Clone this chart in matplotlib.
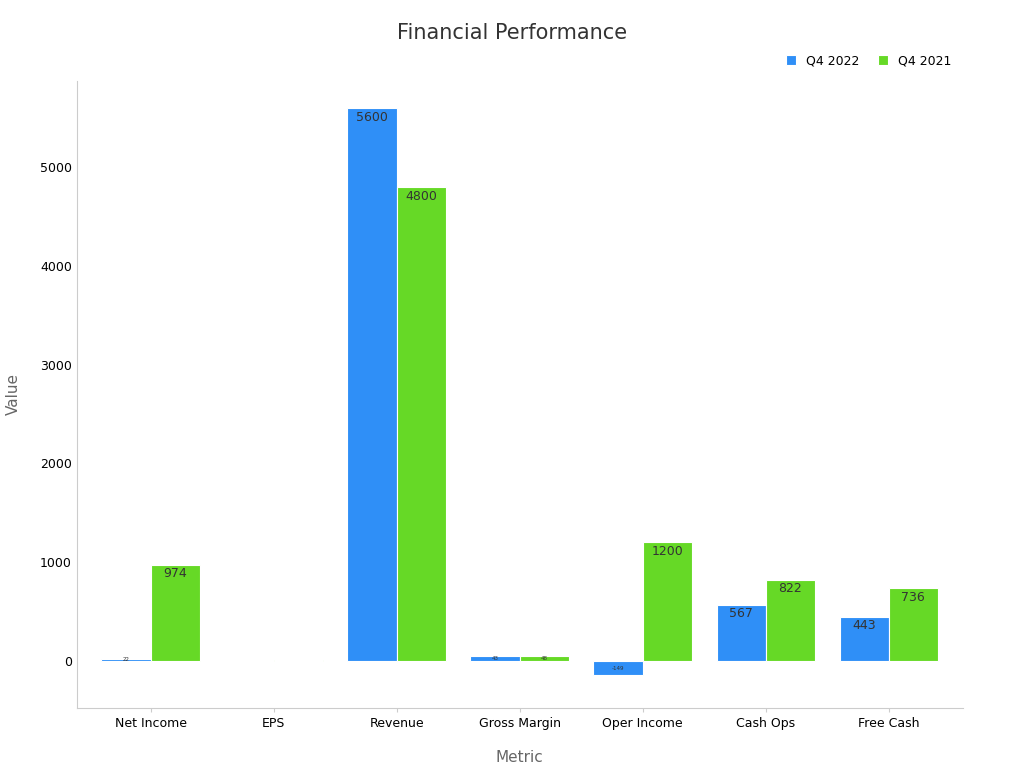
import numpy as np
import matplotlib as mpl
mpl.use('Agg')
import matplotlib.pyplot as plt

metrics = ['Net Income', 'EPS', 'Revenue', 'Gross Margin', 'Oper Income', 'Cash Ops', 'Free Cash']
q4_2022 = [22, 0.1, 5600, 43, -149, 567, 443]
q4_2021 = [974, 2.9, 4800, 48, 1200, 822, 736]

fig, ax = plt.subplots(figsize=(10.24, 7.68), dpi=100)
fig.subplots_adjust(left=0.075, right=0.94, top=0.895, bottom=0.078)
x = np.arange(len(metrics))
w = 0.4
b1 = ax.bar(x - w / 2, q4_2022, w, color='#2f8ff7', edgecolor='white', linewidth=0.8, label='Q4 2022')
b2 = ax.bar(x + w / 2, q4_2021, w, color='#66d926', edgecolor='white', linewidth=0.8, label='Q4 2021')

for bars, vals in [(b1, q4_2022), (b2, q4_2021)]:
    for b, v in zip(bars, vals):
        if abs(v) < 5:
            continue
        fs = 9 if abs(v) > 300 else 4
        y = v - 90 if v > 300 else v / 2
        ax.text(b.get_x() + b.get_width() / 2, y, '%d' % v, ha='center', va='center',
                fontsize=fs, color='#333333')

ax.set_xlim(-0.6, len(metrics) - 0.4)
ax.set_ylim(-480, 5880)
ax.set_xticks(x)
ax.set_xticklabels(metrics, fontsize=9)
ax.set_yticks([0, 1000, 2000, 3000, 4000, 5000])
ax.tick_params(axis='y', labelsize=9, length=0)
ax.tick_params(axis='x', length=3, color='#cccccc')
for s in ['top', 'right']:
    ax.spines[s].set_visible(False)
for s in ['left', 'bottom']:
    ax.spines[s].set_color('#cccccc')
ax.set_xlabel('Metric', fontsize=11, color='#666666', labelpad=14)
ax.set_ylabel('Value', fontsize=11, color='#666666', labelpad=14)
fig.suptitle('Financial Performance', fontsize=15, color='#333333', y=0.97)
ax.legend(loc='upper right', bbox_to_anchor=(1.0, 1.06), ncol=2, frameon=False,
          fontsize=9, handlelength=0.8, handleheight=0.8, columnspacing=1.5)
fig.savefig('out.png')
